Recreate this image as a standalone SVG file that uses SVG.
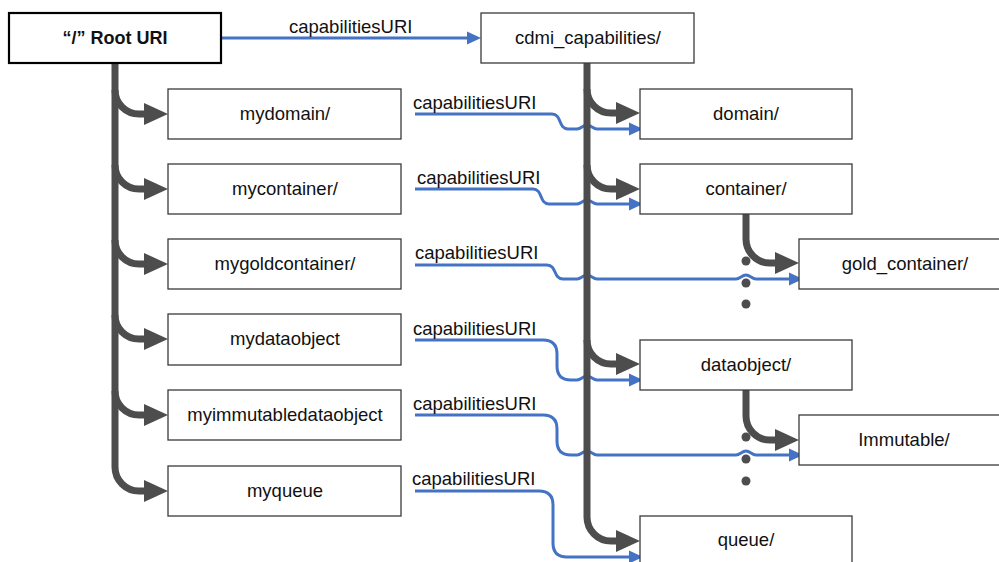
<svg xmlns="http://www.w3.org/2000/svg" width="999" height="562" viewBox="0 0 999 562">
<style>
.box{fill:#fff;stroke:#3a3a3a;stroke-width:1.3}
.root{fill:#fff;stroke:#000;stroke-width:2.2}
.t{font-family:"Liberation Sans",Arial,sans-serif;font-size:18.5px;fill:#111;text-anchor:middle}
.tb{font-weight:bold;font-size:18px}
.lbl{font-family:"Liberation Sans",Arial,sans-serif;font-size:18.5px;fill:#111}
.dk{fill:none;stroke:#4d4d4d;stroke-width:7;marker-end:url(#dkh)}
.bl{fill:none;stroke:#4472C4;stroke-width:3;marker-end:url(#blh)}
.dot{fill:#4d4d4d}
</style>
<defs>
<marker id="dkh" markerUnits="userSpaceOnUse" markerWidth="26" markerHeight="24" viewBox="0 0 26 24" refX="10" refY="12" orient="auto"><path d="M0,1 L24,12 L0,23 Z" fill="#4d4d4d"/></marker>
<marker id="blh" markerUnits="userSpaceOnUse" markerWidth="16" markerHeight="14" viewBox="0 0 16 14" refX="6" refY="7" orient="auto"><path d="M0,0.5 L14,7 L0,13.5 Z" fill="#4472C4"/></marker>
</defs>
<g id="connectors">
<path class="bl" d="M221,38 H473"/>
<path class="bl" d="M415,114 H552 C562,114 558,129 568,129 H577 C581,129 583,125 587,125 C591,125 593,129 597,129 H635"/>
<path class="bl" d="M415,189 H533 C543,189 539,204 549,204 H577 C581,204 583,200 587,200 C591,200 593,204 597,204 H635"/>
<path class="bl" d="M415,265 H547 C557,265 553,279 563,279 H577 C581,279 583,275 587,275 C591,275 593,279 597,279 H736 C740,279 742,275 746,275 C750,275 752,279 756,279 H795"/>
<path class="bl" d="M415,340 H543 Q557,340 557,354 V366 Q557,380 571,380 H577 C581,380 583,376 587,376 C591,376 593,380 597,380 H635"/>
<path class="bl" d="M415,415 H543 Q557,415 557,429 V441 Q557,455 571,455 H577 C581,455 583,451 587,451 C591,451 593,455 597,455 H736 C740,455 742,451 746,451 C750,451 752,455 756,455 H795"/>
<path class="bl" d="M415,491 H539 Q553,491 553,505 V543 Q553,557 567,557 H635"/>
<path class="dk" d="M115,63 V467 A24,24 0 0 0 139,491 H154"/>
<path class="dk" d="M115,90 A24,24 0 0 0 139,114 H154"/>
<path class="dk" d="M115,165 A24,24 0 0 0 139,189 H154"/>
<path class="dk" d="M115,240 A24,24 0 0 0 139,264 H154"/>
<path class="dk" d="M115,315 A24,24 0 0 0 139,339 H154"/>
<path class="dk" d="M115,391 A24,24 0 0 0 139,415 H154"/>
<path class="dk" d="M587,63 V517 A24,24 0 0 0 611,541 H626"/>
<path class="dk" d="M587,89 A24,24 0 0 0 611,113 H626"/>
<path class="dk" d="M587,165 A24,24 0 0 0 611,189 H626"/>
<path class="dk" d="M587,340 A24,24 0 0 0 611,364 H626"/>
<path class="dk" d="M746,214 V239 A24,24 0 0 0 770,263 H785"/>
<path class="dk" d="M746,390 V416 A24,24 0 0 0 770,440 H785"/>
<circle class="dot" cx="746" cy="261" r="4.5"/>
<circle class="dot" cx="746" cy="283" r="4.5"/>
<circle class="dot" cx="746" cy="304" r="4.5"/>
<circle class="dot" cx="746" cy="437" r="4.5"/>
<circle class="dot" cx="746" cy="459" r="4.5"/>
<circle class="dot" cx="746" cy="481" r="4.5"/>
<text class="lbl" x="289" y="33">capabilitiesURI</text>
<text class="lbl" x="413" y="109">capabilitiesURI</text>
<text class="lbl" x="417" y="184">capabilitiesURI</text>
<text class="lbl" x="415" y="259">capabilitiesURI</text>
<text class="lbl" x="413" y="335">capabilitiesURI</text>
<text class="lbl" x="413" y="410">capabilitiesURI</text>
<text class="lbl" x="412" y="485">capabilitiesURI</text>
</g>
<g id="root"><rect class="root" x="9" y="13" width="212" height="50"/><text class="t tb" x="115" y="44">“/” Root URI</text></g>
<g id="cdmi_capabilities"><rect class="box" x="481" y="13" width="213" height="50"/><text class="t" x="588" y="44">cdmi_capabilities/</text></g>
<g id="mydomain"><rect class="box" x="168" y="89" width="233" height="50"/><text class="t" x="285" y="120">mydomain/</text></g>
<g id="mycontainer"><rect class="box" x="168" y="164" width="233" height="50"/><text class="t" x="285" y="195">mycontainer/</text></g>
<g id="mygoldcontainer"><rect class="box" x="168" y="239" width="233" height="50"/><text class="t" x="285" y="270">mygoldcontainer/</text></g>
<g id="mydataobject"><rect class="box" x="168" y="314" width="233" height="51"/><text class="t" x="285" y="345">mydataobject</text></g>
<g id="myimmutabledataobject"><rect class="box" x="168" y="390" width="233" height="50"/><text class="t" x="285" y="421">myimmutabledataobject</text></g>
<g id="myqueue"><rect class="box" x="168" y="466" width="233" height="50"/><text class="t" x="285" y="497">myqueue</text></g>
<g id="domain"><rect class="box" x="640" y="89" width="212" height="50"/><text class="t" x="746" y="120">domain/</text></g>
<g id="container"><rect class="box" x="640" y="164" width="212" height="50"/><text class="t" x="746" y="195">container/</text></g>
<g id="gold_container"><rect class="box" x="799" y="239" width="212" height="50"/><text class="t" x="905" y="270">gold_container/</text></g>
<g id="dataobject"><rect class="box" x="640" y="340" width="212" height="50"/><text class="t" x="746" y="371">dataobject/</text></g>
<g id="immutable"><rect class="box" x="799" y="415" width="212" height="50"/><text class="t" x="904" y="446">Immutable/</text></g>
<g id="queue"><rect class="box" x="640" y="516" width="212" height="50"/><text class="t" x="746" y="546">queue/</text></g>
</svg>
